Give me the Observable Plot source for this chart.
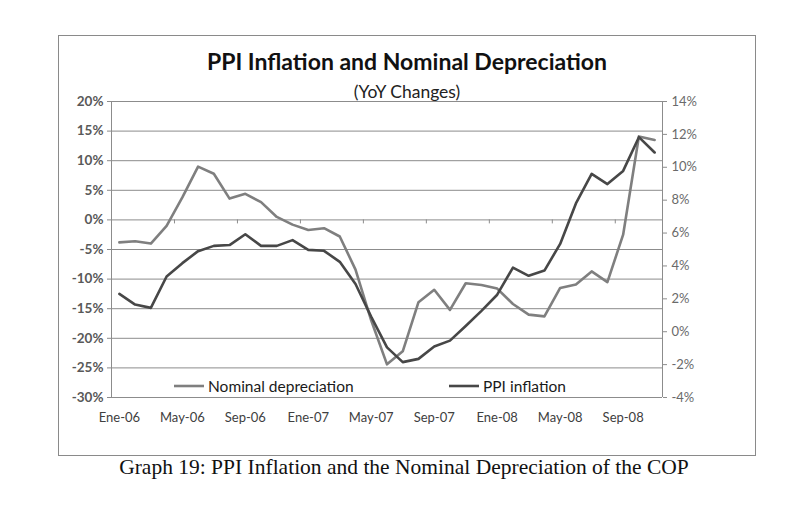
<!DOCTYPE html>
<html>
<head>
<meta charset="utf-8">
<script src="https://cdn.jsdelivr.net/npm/d3@7"></script>
<script src="https://cdn.jsdelivr.net/npm/@observablehq/plot@0.6"></script>
<style>
  body { margin: 0; background: #fff; width: 798px; height: 530px; position: relative; overflow: hidden; font-family: Lato, "Open Sans", sans-serif; }
  #chart { position: absolute; left: 0; top: 0; }
  #frame { position: absolute; left: 58px; top: 35px; width: 696px; height: 419px; border: 1px solid #8a8a8a; pointer-events: none; }
  #title { position: absolute; left: 58px; width: 698px; top: 47px; text-align: center; font-weight: 700; font-size: 23px; line-height: 28px; color: #111; }
  #subtitle { position: absolute; left: 58px; width: 698px; top: 81px; text-align: center; font-size: 17.5px; line-height: 22px; color: #222; }
  .leg { position: absolute; top: 376px; height: 20px; display: flex; align-items: center; font-size: 15.5px; color: #1a1a1a; }
  .leg svg { margin-right: 4px; }
  #caption { position: absolute; left: 0; width: 808px; top: 452px; text-align: center; font-family: "Liberation Serif", serif; font-size: 21.5px; line-height: 30px; color: #111; }
</style>
</head>
<body>
<div id="chart"></div>
<div id="frame"></div>
<div id="title">PPI Inflation and Nominal Depreciation</div>
<div id="subtitle">(YoY Changes)</div>
<div class="leg" id="leg1" style="left:174px"></div>
<div class="leg" id="leg2" style="left:449px"></div>
<div id="caption">Graph 19: PPI Inflation and the Nominal Depreciation of the COP</div>
<script>
// Months (category axis)
const months = [
  "Ene-06","Feb-06","Mar-06","Abr-06","May-06","Jun-06","Jul-06","Ago-06","Sep-06","Oct-06","Nov-06","Dic-06",
  "Ene-07","Feb-07","Mar-07","Abr-07","May-07","Jun-07","Jul-07","Ago-07","Sep-07","Oct-07","Nov-07","Dic-07",
  "Ene-08","Feb-08","Mar-08","Abr-08","May-08","Jun-08","Jul-08","Ago-08","Sep-08","Oct-08","Nov-08"
];
// Nominal depreciation, YoY % (left axis)
const nominal = [
  -3.8, -3.6, -4.0, -1.0, 3.8, 9.0, 7.8, 3.6, 4.4, 3.0, 0.5, -0.8,
  -1.7, -1.4, -2.8, -8.4, -17.0, -24.4, -22.2, -13.9, -11.8, -15.2, -10.7, -11.0,
  -11.6, -14.2, -16.0, -16.3, -11.5, -10.9, -8.7, -10.5, -2.5, 14.1, 13.5
];
// PPI inflation, YoY % (right axis)
const ppi = [
  2.3, 1.65, 1.45, 3.36, 4.17, 4.9, 5.22, 5.27, 5.93, 5.22, 5.22, 5.57,
  4.98, 4.92, 4.25, 2.9, 0.9, -0.95, -1.85, -1.65, -0.9, -0.54, 0.35, 1.27,
  2.25, 3.9, 3.4, 3.72, 5.34, 7.8, 9.6, 8.98, 9.78, 11.83, 10.9
];
const xTickLabels = ["Ene-06","May-06","Sep-06","Ene-07","May-07","Sep-07","Ene-08","May-08","Sep-08"];
const leftTicks = [20, 15, 10, 5, 0, -5, -10, -15, -20, -25, -30];
const rightTicks = [14, 12, 10, 8, 6, 4, 2, 0, -2, -4];
const seriesNames = ["Nominal depreciation", "PPI inflation"];
const seriesColors = ["#7f7f7f", "#474747"];

const leftMin = d3.min(leftTicks), leftMax = d3.max(leftTicks);
const rightMin = d3.min(rightTicks), rightMax = d3.max(rightTicks);
const toLeft = w => leftMin + (w - rightMin) * (leftMax - leftMin) / (rightMax - rightMin);
const fromLeft = v => rightMin + (v - leftMin) * (rightMax - rightMin) / (leftMax - leftMin);

const nomData = months.map((m, i) => ({i, v: nominal[i]}));
const ppiData = months.map((m, i) => ({i, v: toLeft(ppi[i])}));
const labelPos = xTickLabels.map(l => months.indexOf(l));
const tickPos = labelPos.slice(1).map(p => p - 0.5);
const gridColor = "#8c8c8c";

const chart = Plot.plot({
  width: 798,
  height: 455,
  marginLeft: 111,
  marginRight: 136,
  marginTop: 101,
  marginBottom: 58,
  x: {domain: [-0.5, months.length - 0.5], label: null},
  y: {domain: [leftMin, leftMax], label: null},
  style: {background: "transparent", fontFamily: "Lato, 'Open Sans', sans-serif", overflow: "visible"},
  marks: [
    Plot.ruleY(leftTicks, {stroke: gridColor, strokeWidth: 1}),
    Plot.ruleX([-0.5, months.length - 0.5], {stroke: gridColor, strokeWidth: 1}),
    Plot.ruleX(tickPos, {x: d => d, y1: 0, y2: 0, insetBottom: -4, stroke: gridColor}),
    Plot.axisY(leftTicks, {anchor: "left", tickSize: 4, tickPadding: 4, stroke: gridColor, fill: "#595959",
      fontSize: 13.5, fontWeight: 700, tickFormat: d => d + "%", label: null}),
    Plot.axisY(rightTicks.map(toLeft), {anchor: "right", tickSize: 4, tickPadding: 5, stroke: gridColor, fill: "#6a6a6a",
      fontSize: 13, tickFormat: d => Math.round(fromLeft(d)) + "%", label: null}),
    Plot.axisX(labelPos, {anchor: "bottom", tickSize: 0, tickPadding: 15, fill: "#404040", fontSize: 13,
      tickFormat: i => months[i], label: null}),
    Plot.line(nomData, {x: "i", y: "v", stroke: seriesColors[0], strokeWidth: 2.6, strokeLinejoin: "round"}),
    Plot.line(ppiData, {x: "i", y: "v", stroke: seriesColors[1], strokeWidth: 2.6, strokeLinejoin: "round"})
  ]
});
document.getElementById("chart").appendChild(chart);

[["leg1", 0], ["leg2", 1]].forEach(([id, k]) => {
  const el = document.getElementById(id);
  el.innerHTML = `<svg width="30" height="6"><line x1="0" x2="30" y1="3" y2="3" stroke="${seriesColors[k]}" stroke-width="2.6"/></svg><span>${seriesNames[k]}</span>`;
});
</script>
</body>
</html>
